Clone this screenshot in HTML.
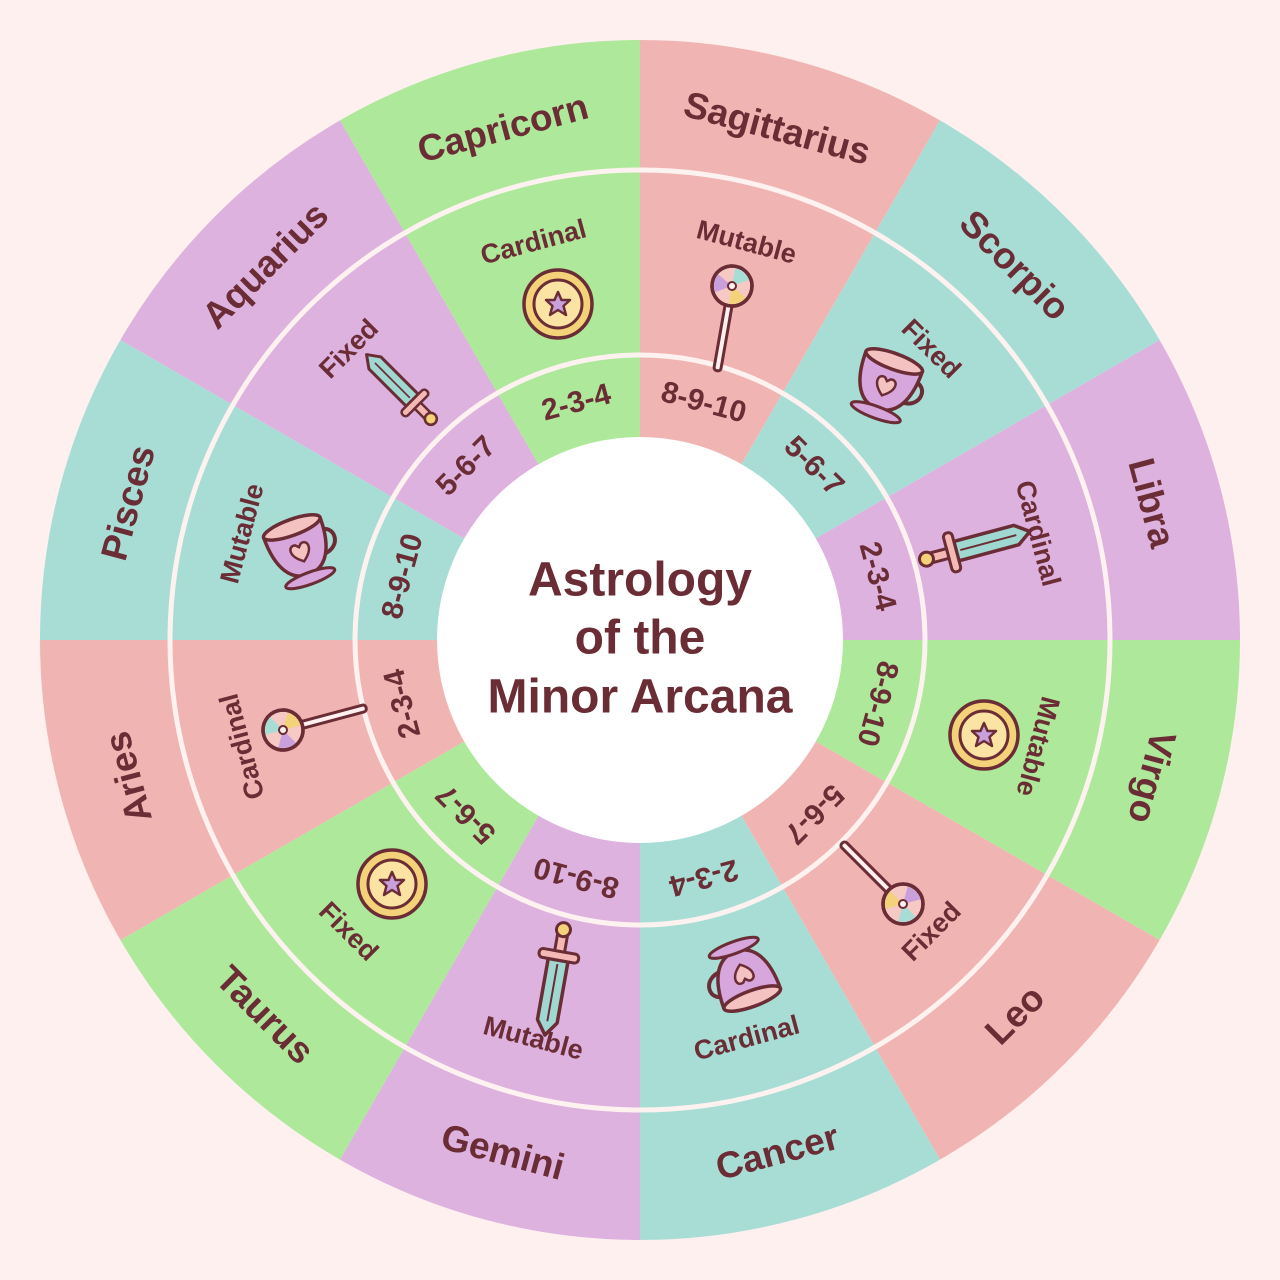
<!DOCTYPE html>
<html><head><meta charset="utf-8">
<style>
html,body{margin:0;padding:0;background:#fdf0ef;}
svg{display:block;}
text{font-family:"Liberation Sans",sans-serif;font-weight:bold;fill:#6b2d35;text-anchor:middle;dominant-baseline:central;}
.o{font-size:37px;}
.m{font-size:27px;}
.i{font-size:30px;}
.t{font-size:48px;}
</style></head>
<body>
<svg width="1280" height="1280" viewBox="0 0 1280 1280" xmlns="http://www.w3.org/2000/svg">
<defs>
<g id="coin">
<circle r="34" fill="#f4d27a" stroke="#6b2d35" stroke-width="3.5"/>
<circle r="24" fill="#fbe3a4" stroke="#6b2d35" stroke-width="3"/>
<polygon points="0,-12 3.5,-4 12,-4 5.5,2 8,11 0,6 -8,11 -5.5,2 -12,-4 -3.5,-4" fill="#c9a0dc" stroke="#6b2d35" stroke-width="2.5" stroke-linejoin="round"/>
</g>
<g id="lolly">
<rect x="-3.5" y="18" width="7" height="68" rx="3" fill="#fdf0ef" stroke="#6b2d35" stroke-width="3"/>
<circle r="20" fill="#f7c9c4" stroke="#6b2d35" stroke-width="3.5"/>
<path d="M0,0 L0,-18 A18,18 0 0 1 15.6,-9 Z" fill="#a8ddd6"/>
<path d="M0,0 L15.6,9 A18,18 0 0 1 0,18 Z" fill="#f4d27a"/>
<path d="M0,0 L-15.6,9 A18,18 0 0 1 -15.6,-9 Z" fill="#c9a0dc"/>
<circle r="4" fill="#fdf0ef" stroke="#6b2d35" stroke-width="2"/>
<circle r="20" fill="none" stroke="#6b2d35" stroke-width="3.5"/>
</g>
<g id="sword">
<polygon points="-10,-50 0,-64 10,-50 10,12 -10,12" fill="#9fd8d0" stroke="#6b2d35" stroke-width="3.5" stroke-linejoin="round"/>
<line x1="0" y1="-50" x2="0" y2="8" stroke="#6b2d35" stroke-width="2"/>
<rect x="-20" y="12" width="40" height="9" rx="4" fill="#f4b9b4" stroke="#6b2d35" stroke-width="3"/>
<rect x="-5" y="21" width="10" height="16" fill="#f4b9b4" stroke="#6b2d35" stroke-width="3"/>
<circle cx="0" cy="43" r="7" fill="#f4d27a" stroke="#6b2d35" stroke-width="3"/>
</g>
<g id="cup">
<path d="M24,-12 C42,-14 42,12 20,12" fill="none" stroke="#6b2d35" stroke-width="4"/>
<path d="M-30,-24 L30,-24 C30,10 18,26 0,26 C-18,26 -30,10 -30,-24 Z" fill="#d7a6dc" stroke="#6b2d35" stroke-width="3.5" stroke-linejoin="round"/>
<ellipse cx="0" cy="-24" rx="30" ry="8" fill="#f4c2c0" stroke="#6b2d35" stroke-width="3.5"/>
<path d="M0,12 C-14,2 -10,-8 -3,-6 L0,-3 L3,-6 C10,-8 14,2 0,12 Z" fill="#f4c2c0" stroke="#6b2d35" stroke-width="2.5"/>
<ellipse cx="0" cy="30" rx="26" ry="6" fill="#d7a6dc" stroke="#6b2d35" stroke-width="3"/>
</g>
</defs>
<rect width="1280" height="1280" fill="#fdf0ef"/>
<path d="M640,640 L640,40 A600,600 0 0 1 940,120.4 Z" fill="#f0b5b3"/>
<path d="M640,640 L940,120.4 A600,600 0 0 1 1159.6,340 Z" fill="#a8ddd6"/>
<path d="M640,640 L1159.6,340 A600,600 0 0 1 1240,640 Z" fill="#ddb2df"/>
<path d="M640,640 L1240,640 A600,600 0 0 1 1159.6,940 Z" fill="#aee89a"/>
<path d="M640,640 L1159.6,940 A600,600 0 0 1 940,1159.6 Z" fill="#f0b5b3"/>
<path d="M640,640 L940,1159.6 A600,600 0 0 1 640,1240 Z" fill="#a8ddd6"/>
<path d="M640,640 L640,1240 A600,600 0 0 1 340,1159.6 Z" fill="#ddb2df"/>
<path d="M640,640 L340,1159.6 A600,600 0 0 1 120.4,940 Z" fill="#aee89a"/>
<path d="M640,640 L120.4,940 A600,600 0 0 1 40,640 Z" fill="#f0b5b3"/>
<path d="M640,640 L40,640 A600,600 0 0 1 120.4,340 Z" fill="#a8ddd6"/>
<path d="M640,640 L120.4,340 A600,600 0 0 1 340,120.4 Z" fill="#ddb2df"/>
<path d="M640,640 L340,120.4 A600,600 0 0 1 640,40 Z" fill="#aee89a"/>
<circle cx="640" cy="640" r="470" fill="none" stroke="#fdf2f0" stroke-width="5"/>
<circle cx="640" cy="640" r="285" fill="none" stroke="#fdf2f0" stroke-width="5"/>
<circle cx="640" cy="640" r="203" fill="#ffffff"/>
<text class="t" x="640" y="580">Astrology</text>
<text class="t" x="640" y="638">of the</text>
<text class="t" x="640" y="697">Minor Arcana</text>
<text class="o" transform="rotate(15 777.2 128.1)" x="777.2" y="128.1">Sagittarius</text>
<text class="o" transform="rotate(45 1014.8 265.2)" x="1014.8" y="265.2">Scorpio</text>
<text class="o" transform="rotate(75 1151.9 502.8)" x="1151.9" y="502.8">Libra</text>
<text class="o" transform="rotate(105 1151.9 777.2)" x="1151.9" y="777.2">Virgo</text>
<text class="o" transform="rotate(-45 1014.8 1014.8)" x="1014.8" y="1014.8">Leo</text>
<text class="o" transform="rotate(-15 777.2 1151.9)" x="777.2" y="1151.9">Cancer</text>
<text class="o" transform="rotate(15 502.8 1151.9)" x="502.8" y="1151.9">Gemini</text>
<text class="o" transform="rotate(45 265.2 1014.8)" x="265.2" y="1014.8">Taurus</text>
<text class="o" transform="rotate(-105 128.1 777.2)" x="128.1" y="777.2">Aries</text>
<text class="o" transform="rotate(-75 128.1 502.8)" x="128.1" y="502.8">Pisces</text>
<text class="o" transform="rotate(-45 265.2 265.2)" x="265.2" y="265.2">Aquarius</text>
<text class="o" transform="rotate(-15 502.8 128.1)" x="502.8" y="128.1">Capricorn</text>
<text class="m" transform="rotate(15 746.6 242)" x="746.6" y="242">Mutable</text>
<text class="m" transform="rotate(45 931.3 348.7)" x="931.3" y="348.7">Fixed</text>
<text class="m" transform="rotate(75 1038 533.4)" x="1038" y="533.4">Cardinal</text>
<text class="m" transform="rotate(105 1038 746.6)" x="1038" y="746.6">Mutable</text>
<text class="m" transform="rotate(-45 931.3 931.3)" x="931.3" y="931.3">Fixed</text>
<text class="m" transform="rotate(-15 746.6 1038)" x="746.6" y="1038">Cardinal</text>
<text class="m" transform="rotate(15 533.4 1038)" x="533.4" y="1038">Mutable</text>
<text class="m" transform="rotate(45 348.7 931.3)" x="348.7" y="931.3">Fixed</text>
<text class="m" transform="rotate(-105 242 746.6)" x="242" y="746.6">Cardinal</text>
<text class="m" transform="rotate(-75 242 533.4)" x="242" y="533.4">Mutable</text>
<text class="m" transform="rotate(-45 348.7 348.7)" x="348.7" y="348.7">Fixed</text>
<text class="m" transform="rotate(-15 533.4 242)" x="533.4" y="242">Cardinal</text>
<text class="i" transform="rotate(15 703.7 402.4)" x="703.7" y="402.4">8-9-10</text>
<text class="i" transform="rotate(45 814 466)" x="814" y="466">5-6-7</text>
<text class="i" transform="rotate(75 877.6 576.3)" x="877.6" y="576.3">2-3-4</text>
<text class="i" transform="rotate(105 877.6 703.7)" x="877.6" y="703.7">8-9-10</text>
<text class="i" transform="rotate(135 814 814)" x="814" y="814">5-6-7</text>
<text class="i" transform="rotate(165 703.7 877.6)" x="703.7" y="877.6">2-3-4</text>
<text class="i" transform="rotate(195 576.3 877.6)" x="576.3" y="877.6">8-9-10</text>
<text class="i" transform="rotate(225 466 814)" x="466" y="814">5-6-7</text>
<text class="i" transform="rotate(255 402.4 703.7)" x="402.4" y="703.7">2-3-4</text>
<text class="i" transform="rotate(285 402.4 576.3)" x="402.4" y="576.3">8-9-10</text>
<text class="i" transform="rotate(315 466 466)" x="466" y="466">5-6-7</text>
<text class="i" transform="rotate(345 576.3 402.4)" x="576.3" y="402.4">2-3-4</text>
<use href="#coin" transform="translate(558,304)"/>
<use href="#lolly" transform="translate(732,286) rotate(10)"/>
<use href="#cup" transform="translate(886,384) rotate(20)"/>
<use href="#sword" transform="translate(968,548) rotate(75)"/>
<use href="#coin" transform="translate(984,735)"/>
<use href="#lolly" transform="translate(903,904) rotate(135)"/>
<use href="#cup" transform="translate(744,976) rotate(160)"/>
<use href="#sword" transform="translate(556,972) rotate(190)"/>
<use href="#coin" transform="translate(392,884)"/>
<use href="#lolly" transform="translate(283,730) rotate(-105)"/>
<use href="#cup" transform="translate(300,550) rotate(-20)"/>
<use href="#sword" transform="translate(405,393) rotate(-45) scale(0.85)"/>
</svg>
</body></html>
